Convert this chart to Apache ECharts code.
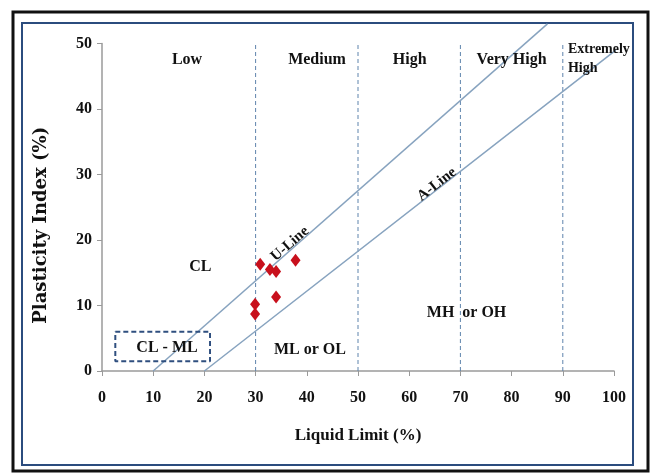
<!DOCTYPE html>
<html>
<head>
<meta charset="utf-8">
<script src="https://cdn.jsdelivr.net/npm/echarts@6/dist/echarts.min.js"></script>
<style>
	html, body { margin: 0; padding: 0; background: #fff; }
	#chart { width: 653px; height: 473px; }
</style>
</head>
<body>
<div id="chart"></div>
<script>
// samples: liquid limit / plasticity index
var samplesLL = [30.9, 32.8, 34.0, 37.8, 34.0, 29.9, 29.9];
var samplesPI = [16.3, 15.5, 15.2, 16.9, 11.3, 10.2, 8.7];

// reference lines (drawn from start point to top of frame)
var uLine = [[10, 0], [87, 53]];
var aLine = [[20, 0], [104, 51.2]];

// plasticity range boundaries
var boundaries = [30, 50, 70, 90];

// CL-ML box corners
var clmlBox = [[2.6, 6.0], [21.1, 1.5]];

var xTicks = [0, 10, 20, 30, 40, 50, 60, 70, 80, 90, 100];

// zone labels [LL, PI, text]
var zoneLabels = [
	[16.6, 47.5, 'Low'],
	[42, 47.5, 'Medium'],
	[60.1, 47.5, 'High'],
	[80, 47.5, 'Very High'],
	[19.2, 15.9, 'CL'],
	[12.7, 3.5, 'CL - ML'],
	[40.6, 3.2, 'ML or OL'],
	[71.2, 8.9, 'MH  or OH']
];
var extremeLabel = [91, 47.6, 'Extremely\nHigh'];
var lineLabels = [
	[36.7, 19.4, 'U-Line', 41],
	[65.4, 28.5, 'A-Line', 38]
];

var serif = '"Liberation Serif", "DejaVu Serif", serif';
var chart = echarts.init(document.getElementById('chart'));

var series = [];

boundaries.forEach(function (b) {
	series.push({
		type: 'line',
		data: [[b, 0], [b, 50]],
		symbol: 'none',
		silent: true,
		lineStyle: { color: '#5f84ad', width: 1, type: [4, 3] }
	});
});

[uLine, aLine].forEach(function (l) {
	series.push({
		type: 'line',
		data: l,
		clip: false,
		symbol: 'none',
		silent: true,
		lineStyle: { color: '#87a3bf', width: 1.5 }
	});
});

series.push({
	type: 'line',
	data: [
		[clmlBox[0][0], clmlBox[0][1]], [clmlBox[1][0], clmlBox[0][1]],
		[clmlBox[1][0], clmlBox[1][1]], [clmlBox[0][0], clmlBox[1][1]],
		[clmlBox[0][0], clmlBox[0][1]]
	],
	symbol: 'none',
	silent: true,
	lineStyle: { color: '#2f4f7f', width: 2, type: [5, 3] }
});

series.push({
	type: 'scatter',
	data: samplesLL.map(function (v, i) { return [v, samplesPI[i]]; }),
	symbol: 'diamond',
	symbolSize: [10, 13],
	itemStyle: { color: '#c8101c', opacity: 1 },
	z: 5
});

series.push({
	type: 'scatter',
	silent: true,
	symbolSize: 0,
	itemStyle: { opacity: 1 },
	data: zoneLabels.map(function (z) {
		return { value: [z[0], z[1]], label: { formatter: z[2] } };
	}).concat([{
		value: [extremeLabel[0], extremeLabel[1]],
		label: { formatter: extremeLabel[2], align: 'left', fontSize: 14, lineHeight: 19 }
	}]).concat(lineLabels.map(function (z) {
		return { value: [z[0], z[1]], label: { formatter: z[2], rotate: z[3], fontSize: 15 } };
	})),
	label: {
		show: true, position: 'inside', opacity: 1,
		fontFamily: serif, fontWeight: 'bold', fontSize: 16, color: '#111',
		textBorderWidth: 0
	},
	z: 6
});

var option = {
	animation: false,
	backgroundColor: '#fff',
	grid: { left: 102, top: 43.5, width: 512, height: 327.5 },
	xAxis: {
		type: 'value', min: 0, max: 100, interval: 10,
		name: 'Liquid Limit (%)', nameLocation: 'middle', nameGap: 56,
		nameTextStyle: { fontFamily: serif, fontWeight: 'bold', fontSize: 17, color: '#111' },
		axisLine: { lineStyle: { color: '#9a9a9a', width: 1.5 } },
		axisTick: { show: true, length: 5, lineStyle: { color: '#9a9a9a' } },
		axisLabel: { margin: 19, fontFamily: serif, fontWeight: 'bold', fontSize: 16, color: '#111',
			customValues: xTicks },
		splitLine: { show: false }
	},
	yAxis: {
		type: 'value', min: 0, max: 50, interval: 10,
		name: 'Plasticity Index (%)', nameLocation: 'middle', nameGap: 52,
		nameTextStyle: { fontFamily: '"DejaVu Serif", serif', fontWeight: 'bold', fontSize: 18,
			color: '#111', padding: [0, 36, 0, 0] },
		axisLine: { show: true, lineStyle: { color: '#9a9a9a', width: 1.5 } },
		axisTick: { show: true, length: 5, lineStyle: { color: '#9a9a9a' } },
		axisLabel: { margin: 10, fontFamily: serif, fontWeight: 'bold', fontSize: 16, color: '#111' },
		splitLine: { show: false }
	},
	graphic: [
		{ type: 'rect', shape: { x: 13, y: 12, width: 635, height: 459 },
			style: { fill: 'none', stroke: '#111', lineWidth: 3 } },
		{ type: 'rect', shape: { x: 22, y: 23, width: 611, height: 442 },
			style: { fill: 'none', stroke: '#2b4c7e', lineWidth: 2 } }
	],
	series: series
};

chart.setOption(option);
</script>
</body>
</html>
